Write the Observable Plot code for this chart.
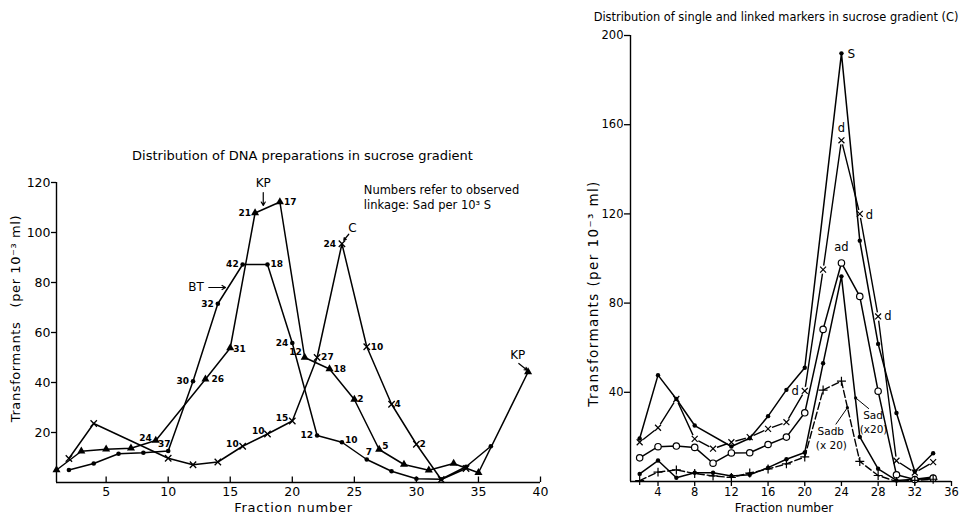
<!DOCTYPE html>
<html><head><meta charset="utf-8">
<script src="https://cdn.jsdelivr.net/npm/d3@7"></script>
<script src="https://cdn.jsdelivr.net/npm/@observablehq/plot@0.6"></script>
<style>
html,body{margin:0;padding:0;background:#fff;}
#wrap{position:relative;width:967px;height:517px;overflow:hidden;background:#fff;}
#left{position:absolute;left:0;top:0;}
#right{position:absolute;left:580px;top:0;}
svg{overflow:visible}
</style></head><body>
<div id="wrap"><div id="left"></div><div id="right"></div></div>
<script>
// ---------- DATA: left panel (Distribution of DNA preparations) ----------
const leftXTicks = [5, 10, 15, 20, 25, 30, 35, 40];
const leftYTicks = [20, 40, 60, 80, 100, 120];
const kpX = [1, 3, 5, 7, 9, 13, 15, 17, 19, 21, 23, 25, 27, 29, 31, 33, 35, 39];
const kpY = [5, 12.5, 13.3, 13.7, 16.8, 41.3, 53.8, 107.8, 112.2, 50, 45.4, 33.2, 13.2, 7.2, 4.9, 7.6, 3.9, 44.2];
const kpNum = [null, null, null, null, "24", "26", "31", "21", "17", "12", "18", "2", "5", null, null, null, null, null];
const btX = [2, 4, 6, 8, 10, 12, 14, 16, 18, 20, 22, 24, 26, 28, 30, 32, 34, 36];
const btY = [5, 7.6, 11.5, 11.9, 12.6, 40.5, 71.5, 87.2, 87.2, 55.8, 18.8, 16.1, 9.2, 4.5, 1.5, 1.3, 6.3, 14.5];
const btNum = [null, null, null, null, "37", "30", "32", "42", "18", "24", "12", "10", "7", null, null, null, null, null];
const cX = [2, 4, 10, 12, 14, 16, 18, 20, 22, 24, 26, 28, 30, 32, 34];
const cY = [9.6, 23.6, 9.7, 7.1, 8.2, 14.5, 19.4, 24.6, 50, 95.5, 54.3, 31.3, 15.3, 1.2, 5.6];
const cNum = [null, null, null, null, null, "10", "10", "15", "27", "24", "10", "4", "2", null, null];

// ---------- DATA: right panel (single and linked markers) ----------
const rightXTicks = [4, 8, 12, 16, 20, 24, 28, 32, 36];
const rightYTicks = [40, 80, 120, 160, 200];
const sX = [2, 4, 6, 8, 12, 14, 16, 18, 20, 24, 26, 28, 30, 32, 34];
const sY = [19.3, 47.7, 37, 25.1, 15.7, 19.4, 29.3, 41.1, 51, 192, 108, 61.7, 30.7, 4.5, 12.7];
const fX = [2, 4, 6, 8, 10, 12, 14, 16, 18, 20, 22, 24, 26, 28, 30, 32, 34];
const dY = [17.6, 24.1, 37, 19.1, 14.7, 17.6, 19.9, 23.6, 26.6, 40.6, 95, 153, 120, 74, 9.3, 4, 8.7];
const adY = [10.6, 15.6, 15.9, 15.3, 8.2, 12.8, 12.9, 16.6, 19.9, 30.8, 68.2, 98, 83, 40.5, 3, 0.9, 1.5];
const sadY = [3.4, 9.4, 1.7, 3.9, 3.9, 2.5, 3.0, 6.2, 10, 13, 53, 92, 20, 5.7, 0.5, 1, 2];
const sadbY = [0.4, 4.2, 5.2, 3.6, 2.5, 1.8, 3.8, 5.6, 7.9, 11, 41, 45, 9, 2.7, 0, 0.5, 1];

// ---------- helpers ----------
const FONT = "'DejaVu Sans', 'Liberation Sans', sans-serif";
const rows = (xs, ys, ns) => xs.map((x, i) => ({x, y: ys[i], n: ns ? ns[i] : null}));
function numLabels(data, place, extra) {
  return data.filter(d => d.n && place[d.x]).map(d => {
    const [anchor, dx, dy] = place[d.x];
    return Plot.text([d], Object.assign({x: "x", y: "y", text: "n", textAnchor: anchor, dx, dy,
      fill: "black"}, extra));
  });
}
function spaceText(svg, prefix, spacing) {
  d3.select(svg).selectAll("text").filter(function () { return this.textContent.startsWith(prefix); })
    .style("letter-spacing", spacing);
}

// ---------- LEFT PANEL ----------
const kp = rows(kpX, kpY, kpNum), bt = rows(btX, btY, btNum), cc = rows(cX, cY, cNum);
const kpPlace = {9: ["end", -4, -2], 13: ["start", 6, 0], 15: ["start", 3, 1], 17: ["end", -4, 0], 19: ["start", 4, 0],
  21: ["end", -3, -5], 23: ["start", 4, 0], 25: ["start", 3, 0], 27: ["start", 3, -3]};
const btPlace = {10: ["middle", -4, -7], 12: ["end", -4, 0], 14: ["end", -4, 0], 16: ["end", -4, 0], 18: ["start", 3, 0],
  20: ["end", -4, 0], 22: ["end", -4, 0], 24: ["start", 3, -2], 26: ["middle", 2, -7]};
const cPlace = {16: ["end", -4, -2], 18: ["end", -3, -3], 20: ["end", -4, -3], 22: ["start", 4, 0], 24: ["end", -6, 0],
  26: ["start", 4, 0], 28: ["start", 3, 0], 30: ["start", 3, 0]};
const numStyle = {fontSize: 9, fontWeight: "bold"};

const left = Plot.plot({
  width: 580, height: 517,
  marginLeft: 56, marginRight: 40, marginTop: 182, marginBottom: 35,
  x: {domain: [1, 40]},
  y: {domain: [0, 120]},
  style: {fontFamily: FONT, fontSize: "12px", color: "black", background: "white", overflow: "visible"},
  marks: [
    Plot.ruleY([0], {strokeWidth: 1.4}),
    Plot.ruleX([1], {strokeWidth: 1.4}),
    Plot.ruleX(leftXTicks, {x: d => d, y1: 0, y2: 2.2, strokeWidth: 1.3}),
    Plot.axisX({ticks: leftXTicks, tickSize: 0, tickPadding: 5, label: null, fontSize: 12.5}),
    Plot.axisY({ticks: leftYTicks, tickSize: 5, tickPadding: 1, label: null, fontSize: 12.5, strokeWidth: 1.3}),
    Plot.line(kp, {x: "x", y: "y", stroke: "black", strokeWidth: 1.5}),
    Plot.line(bt, {x: "x", y: "y", stroke: "black", strokeWidth: 1.5}),
    Plot.line(cc, {x: "x", y: "y", stroke: "black", strokeWidth: 1.5}),
    Plot.dot(kp, {x: "x", y: "y", symbol: "triangle", r: 3, fill: "black"}),
    Plot.dot(bt, {x: "x", y: "y", r: 2.3, fill: "black"}),
    Plot.dot(cc, {x: "x", y: "y", symbol: "times", r: 3, stroke: "black", strokeWidth: 1.3}),
    ...numLabels(kp, kpPlace, numStyle),
    ...numLabels(bt, btPlace, numStyle),
    ...numLabels(cc, cPlace, numStyle),
    // annotations
    Plot.text(["Distribution of DNA preparations in sucrose gradient"], {frameAnchor: "top", dx: 4, dy: -27, fontSize: 13, lineAnchor: "middle", textAnchor: "middle"}),
    Plot.text(["Fraction number"], {frameAnchor: "bottom", dx: -5, dy: 25, fontSize: 13, lineAnchor: "middle", textAnchor: "middle"}),
    Plot.text(["Transformants\u00a0\u00a0\u00a0(per 10\u207B\u00B3 ml)"], {frameAnchor: "left", dx: -41, dy: -14, rotate: -90, fontSize: 13, lineAnchor: "middle", textAnchor: "middle"}),
    Plot.text(["Numbers refer to observed"], {x: 25.76, y: 116.9, textAnchor: "start", fontSize: 11.5}),
    Plot.text(["linkage: Sad per 10\u00B3 S"], {x: 25.76, y: 110.9, textAnchor: "start", fontSize: 11.5}),
    Plot.text(["KP"], {x: 17.66, y: 119.6, fontSize: 12}),
    Plot.arrow([0], {x1: 17.66, y1: 116, x2: 17.66, y2: 110.8, headLength: 5, strokeWidth: 1.2}),
    Plot.text(["BT"], {x: 12.87, y: 78, textAnchor: "end", fontSize: 12}),
    Plot.arrow([0], {x1: 13.27, y1: 78, x2: 14.62, y2: 78, headLength: 5, strokeWidth: 1.2}),
    Plot.text(["C"], {x: 24.85, y: 101.8, fontSize: 12}),
    Plot.arrow([0], {x1: 24.55, y1: 99.3, x2: 24.15, y2: 96.9, headLength: 4, strokeWidth: 1.2}),
    Plot.text(["KP"], {x: 38.17, y: 51, fontSize: 12}),
    Plot.arrow([0], {x1: 38.25, y1: 47.6, x2: 38.93, y2: 44.9, headLength: 4, strokeWidth: 1.2})
  ]
});
spaceText(left, "Transformants", "0.6px");
spaceText(left, "Fraction", "0.8px");
document.getElementById("left").appendChild(left);

// ---------- RIGHT PANEL ----------
const S = rows(sX, sY), D = rows(fX, dY), AD = rows(fX, adY), SAD = rows(fX, sadY), SADB = rows(fX, sadbY);
const dLab = D.filter(d => [20, 24, 26, 28].includes(d.x)).map(d => ({...d, n: "d"}));
const dPlace = {20: ["end", -6, 0], 24: ["middle", 0, -12], 26: ["start", 6, 1], 28: ["start", 6, 0]};
const sLab = S.filter(d => d.x === 24).map(d => ({...d, n: "S"}));
const adLab = AD.filter(d => d.x === 24).map(d => ({...d, n: "ad"}));

const right = Plot.plot({
  width: 387, height: 517,
  marginLeft: 50, marginRight: 16, marginTop: 35, marginBottom: 36,
  x: {domain: [1, 36]},
  y: {domain: [0, 200]},
  style: {fontFamily: FONT, fontSize: "11px", color: "black", background: "white", overflow: "visible"},
  marks: [
    Plot.ruleY([0], {strokeWidth: 1.4}),
    Plot.ruleX([1], {strokeWidth: 1.4}),
    Plot.axisX({ticks: rightXTicks, tickSize: 5, tickPadding: 1, label: null, fontSize: 11.5, strokeWidth: 1.3}),
    Plot.axisY({ticks: rightYTicks, tickSize: 6, tickPadding: 1, label: null, fontSize: 11.5, strokeWidth: 1.3}),
    Plot.line(D, {x: "x", y: "y", stroke: "black", strokeWidth: 1.4}),
    Plot.dot(D, {x: "x", y: "y", r: 4.2, fill: "white"}),
    Plot.line(SADB, {x: "x", y: "y", stroke: "black", strokeWidth: 1.4, strokeDasharray: "7,3"}),
    Plot.line(S, {x: "x", y: "y", stroke: "black", strokeWidth: 1.5}),
    Plot.line(AD, {x: "x", y: "y", stroke: "black", strokeWidth: 1.5}),
    Plot.line(SAD, {x: "x", y: "y", stroke: "black", strokeWidth: 1.5}),
    Plot.dot(S, {x: "x", y: "y", r: 2.2, fill: "black"}),
    Plot.dot(SAD, {x: "x", y: "y", r: 2.2, fill: "black"}),
    Plot.dot(AD, {x: "x", y: "y", r: 3.2, fill: "white", stroke: "black", strokeWidth: 1.2}),
    Plot.dot(D, {x: "x", y: "y", symbol: "times", r: 2.8, stroke: "black", strokeWidth: 1.2}),
    Plot.dot(SADB, {x: "x", y: "y", symbol: "plus", r: 3, stroke: "black", strokeWidth: 1.2}),
    ...numLabels(dLab, dPlace, {fontSize: 11.5}),
    Plot.text(sLab, {x: "x", y: "y", text: "n", textAnchor: "start", dx: 6, dy: 1, fontSize: 12}),
    Plot.text(adLab, {x: "x", y: "y", text: "n", dy: -16, fontSize: 11.5}),
    // leaders for Sad, Sadb
    Plot.link([0], {x1: 27.0, y1: 32.6, x2: 25.55, y2: 37.5, strokeWidth: 1}),
    Plot.dot([0], {x: 25.55, y: 37.5, r: 1.6, fill: "black"}),
    Plot.link([0], {x1: 23.38, y1: 25.6, x2: 24.65, y2: 33.1, strokeWidth: 1}),
    Plot.dot([0], {x: 24.65, y: 33.1, r: 1.6, fill: "black"}),
    Plot.text(["Sad"], {x: 27.45, y: 29.4, fontSize: 10.5}),
    Plot.text(["(x20)"], {x: 27.5, y: 23.1, fontSize: 10.5}),
    Plot.text(["Sadb"], {x: 22.84, y: 22.2, fontSize: 10.5}),
    Plot.text(["(x 20)"], {x: 22.9, y: 15.9, fontSize: 10.5}),
    Plot.text(["Distribution of single and linked markers in sucrose gradient (C)"], {frameAnchor: "top", dx: -15, dy: -18, fontSize: 11.4, lineAnchor: "middle", textAnchor: "middle"}),
    Plot.text(["Fraction number"], {frameAnchor: "bottom", dx: -7, dy: 27, fontSize: 12, lineAnchor: "middle", textAnchor: "middle"}),
    Plot.text(["Transformants (per 10\u207B\u00B3 ml)"], {frameAnchor: "left", dx: -36.5, dy: 35, rotate: -90, fontSize: 13.5, lineAnchor: "middle", textAnchor: "middle"})
  ]
});
spaceText(right, "Transformants", "1.4px");
document.getElementById("right").appendChild(right);
</script>
</body></html>
